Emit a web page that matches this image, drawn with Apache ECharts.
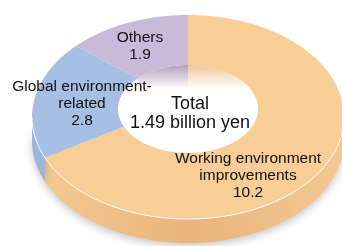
<!DOCTYPE html>
<html>
<head>
<meta charset="utf-8">
<script src="https://cdn.jsdelivr.net/npm/echarts@6/dist/echarts.min.js"></script>
<style>
  html, body { margin: 0; padding: 0; background: #fff; }
  #main { width: 342px; height: 246px; }
</style>
</head>
<body>
<div id="main"></div>
<script>
// data (100 million yen)
var categories = ['Working environment improvements', 'Global environment-related', 'Others'];
var values = [10.2, 2.8, 1.9];
var labelNames = ['Working environment\nimprovements', 'Global environment-\nrelated', 'Others'];

// colours
var topColors = ['#F8CD96', '#A6BFE2', '#C9BADA'];
var sideColors = [['#F6CB95', '#E8B47C', '#F4C893'], ['#9DB6D8', '#9DB6D8', '#9DB6D8'], ['#BBA9C9', '#BBA9C9', '#BBA9C9']];
var wallColors = ['#EFC89A', '#D5DEEC', '#B3A1BF'];

// layout of the tilted ring
var outer = { cx: 188, cy: 117, rx: 156, ry: 102 };
var hole = { cx: 188, cy: 109, rx: 70, ry: 44 };
var depth = 24;
var labelPos = [[248, 176], [82, 104], [140, 46]];

var total = values.reduce(function (a, b) { return a + b; }, 0);
var starts = [], ends = [];
var acc = 90;
values.forEach(function (v) {
  starts.push(acc);
  acc -= v / total * 360;
  ends.push(acc);
});

function pt(e, deg) {
  var r = deg * Math.PI / 180;
  return [e.cx + e.rx * Math.cos(r), e.cy - e.ry * Math.sin(r)];
}
function arc(e, from, to) {
  var n = Math.max(2, Math.ceil(Math.abs(to - from)));
  var pts = [];
  for (var k = 0; k <= n; k++) pts.push(pt(e, from + (to - from) * k / n));
  return pts;
}
// parts of [lo, hi] that fall in [rlo, rhi] (mod 360)
function clip(lo, hi, rlo, rhi) {
  var out = [];
  for (var k = -2; k <= 2; k++) {
    var s = Math.max(lo, rlo + 360 * k), e = Math.min(hi, rhi + 360 * k);
    if (e - s > 0.01) out.push([s, e]);
  }
  return out;
}

function renderItem(params, api) {
  var i = params.dataIndex;
  var a0 = starts[i], a1 = ends[i];
  var children = [];
  // top face
  var pts = arc(outer, a0, a1).concat(arc(hole, a1, a0));
  children.push({ type: 'polygon', shape: { points: pts }, style: { fill: topColors[i] }, z2: 10 });
  // outer side band (front half)
  clip(a1, a0, -180, 0).forEach(function (r) {
    var top = arc(outer, r[0], r[1]);
    var bottom = top.map(function (p) { return [p[0], p[1] + depth]; }).reverse();
    var sc = sideColors[i];
    children.push({
      type: 'polygon', shape: { points: top.concat(bottom) },
      style: {
        fill: new echarts.graphic.LinearGradient(outer.cx - outer.rx, 0, outer.cx + outer.rx, 0, [
          { offset: 0, color: sc[0] }, { offset: 0.5, color: sc[1] }, { offset: 1, color: sc[2] }
        ], true),
        shadowBlur: 8, shadowColor: 'rgba(0,0,0,0.22)', shadowOffsetY: 3
      },
      z2: 1
    });
    children.push({ type: 'polyline', shape: { points: top }, style: { stroke: '#fff', lineWidth: 1, fill: null }, z2: 11 });
  });
  // inner wall (far half of hole)
  clip(a1, a0, 0, 180).forEach(function (r) {
    var top = arc(hole, r[0], r[1]);
    var bottom = top.map(function (p) { return [p[0], p[1] + depth]; }).reverse();
    children.push({
      type: 'polygon', shape: { points: top.concat(bottom) },
      style: {
        fill: new echarts.graphic.LinearGradient(0, hole.cy - hole.ry, 0, hole.cy - hole.ry + depth, [
          { offset: 0, color: wallColors[i] }, { offset: 1, color: '#ffffff' }
        ], true)
      },
      z2: 2
    });
  });
  // label
  children.push({
    type: 'text', x: labelPos[i][0], y: labelPos[i][1],
    style: {
      text: labelNames[i] + '\n' + api.value(0), fill: '#111',
      fontSize: 15.5, fontFamily: 'Liberation Sans, Arial, sans-serif',
      lineHeight: 17, align: 'center', verticalAlign: 'middle'
    },
    z2: 20
  });
  if (i === 0) {
    children.push({
      type: 'text', x: hole.cx + 2, y: hole.cy + 5,
      style: {
        text: 'Total\n' + (total / 10).toFixed(2) + ' billion yen', fill: '#111',
        fontSize: 18, fontFamily: 'Liberation Sans, Arial, sans-serif',
        lineHeight: 19, align: 'center', verticalAlign: 'middle'
      },
      z2: 20
    });
  }
  return { type: 'group', children: children };
}

var myChart = echarts.init(document.getElementById('main'));
var option = {
  animation: false,
  backgroundColor: '#fff',
  series: [{
    type: 'custom',
    coordinateSystem: 'none',
    renderItem: renderItem,
    data: values.map(function (v, i) { return { value: [v], name: categories[i] }; })
  }]
};
myChart.setOption(option);
</script>
</body>
</html>
